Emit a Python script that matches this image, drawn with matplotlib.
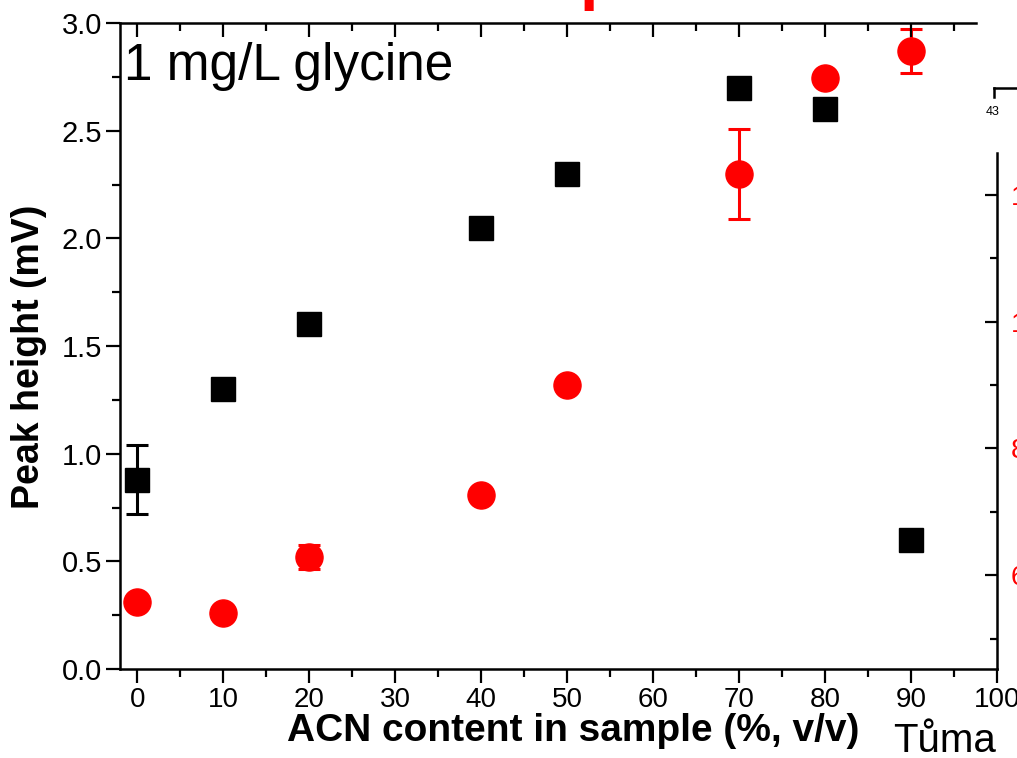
import matplotlib
matplotlib.use("Agg")
import matplotlib.pyplot as plt
from matplotlib.ticker import MultipleLocator, FormatStrFormatter

# ACN content (%, v/v)
acn_black = [0, 10, 20, 40, 50, 70, 80, 90]
peak_black = [0.88, 1.30, 1.60, 2.05, 2.30, 2.70, 2.60, 0.60]
err_black = [0.16, 0, 0, 0, 0, 0, 0, 0]

acn_red = [0, 10, 20, 40, 50, 70, 80, 90]
peak_red = [0.31, 0.26, 0.52, 0.81, 1.32, 2.30, 2.745, 2.87]
err_red = [0, 0, 0.055, 0, 0, 0.21, 0, 0.10]

# partially visible neighbouring panel (red axis)
right_ticks = [6, 8, 10, 12]
right_labels = ["6", "8", "10", "12"]

plt.rcParams["font.family"] = ["Liberation Sans", "DejaVu Sans"]

W, H = 1017, 758
fig = plt.figure(figsize=(W / 100, H / 100), dpi=100)

ax = fig.add_axes([120 / W, (H - 669) / H, (997 - 120) / W, (669 - 23) / H])

ax.errorbar(acn_black, peak_black, yerr=err_black, fmt="s", color="black",
            markersize=17, elinewidth=2.2, capsize=8, capthick=2.2, zorder=3)
ax.errorbar(acn_red, peak_red, yerr=err_red, fmt="o", color="red",
            markersize=19.5, elinewidth=2.2, capsize=8, capthick=2.2, zorder=3)

ax.set_xlim(-2, 100)
ax.set_ylim(0, 3.0)

ax.xaxis.set_major_locator(MultipleLocator(10))
ax.xaxis.set_minor_locator(MultipleLocator(5))
ax.yaxis.set_major_locator(MultipleLocator(0.5))
ax.yaxis.set_minor_locator(MultipleLocator(0.25))
ax.yaxis.set_major_formatter(FormatStrFormatter("%.1f"))

ax.tick_params(axis="both", which="major", direction="out", length=10, width=1.6,
               labelsize=21, pad=3)
ax.tick_params(axis="x", which="major", labelsize=20)
ax.tick_params(axis="both", which="minor", direction="out", length=6, width=1.6)
ax.tick_params(top=False, right=False)

for side in ["left", "bottom"]:
    ax.spines[side].set_linewidth(1.8)
ax.spines["right"].set_visible(False)
ax.spines["top"].set_visible(False)

# top axis with inward ticks, cut short on the right
axt = ax.twiny()
axt.set_xlim(ax.get_xlim())
axt.set_xticks(list(range(0, 100, 10)))
axt.set_xticks(list(range(5, 100, 10)), minor=True)
axt.tick_params(axis="x", which="major", direction="in", length=10, width=1.6,
                labeltop=False, top=True)
axt.tick_params(axis="x", which="minor", direction="in", length=6, width=1.6, top=True)
for side in ["left", "right", "bottom"]:
    axt.spines[side].set_visible(False)
axt.spines["top"].set_linewidth(1.8)
axt.spines["top"].set_bounds(-2, 97.5)

ax.set_xlabel("ACN content in sample (%, v/v)", fontsize=28, fontweight="bold")
ax.xaxis.set_label_coords(0.5165, -0.068)
ax.set_ylabel("Peak height (mV)", fontsize=27, fontweight="bold")
ax.yaxis.set_label_coords(-0.083, 0.483)

ax.text(0.004, 0.912, "1 mg/L glycine", transform=ax.transAxes, fontsize=37,
        va="baseline", ha="left")

# neighbouring panel on the right (mostly cut off)
axr = fig.add_axes([997 / W, (H - 669) / H, 0.3, (669 - 153) / H])
axr.set_ylim(4.52, 12.66)
axr.set_xlim(0, 1)
axr.set_xticks([])
axr.set_yticks(right_ticks)
axr.set_yticklabels(right_labels)
axr.yaxis.set_minor_locator(MultipleLocator(1))
axr.tick_params(axis="y", which="major", direction="out", length=9, width=1.6,
                labelsize=20, labelcolor="red", pad=-19)
axr.tick_params(axis="y", which="minor", direction="out", length=5, width=1.6)
for lab in axr.get_yticklabels():
    lab.set_ha("left")
for side in ["right", "top", "bottom"]:
    axr.spines[side].set_visible(False)
axr.spines["left"].set_linewidth(1.8)
axr.patch.set_alpha(0)

# corner of another panel above
axc = fig.add_axes([994 / W, (H - 97) / H, 0.1, 9 / H])
axc.set_xticks([])
axc.set_yticks([])
for side in ["right", "bottom"]:
    axc.spines[side].set_visible(False)
axc.spines["left"].set_linewidth(1.8)
axc.spines["top"].set_linewidth(1.8)
axc.patch.set_alpha(0)
fig.text(993 / W, 1 - 112 / H, "43", fontsize=9, ha="center", va="center")

# cut-off red title and author name
fig.text(580 / W, 1.0 + 3 / H, "p", color="red", fontsize=48, fontweight="bold",
         ha="left", va="baseline")
fig.text(893 / W, 1 - 741 / H, "Tůma", fontsize=29, ha="left", va="center")

fig.savefig("out.png", dpi=100)
